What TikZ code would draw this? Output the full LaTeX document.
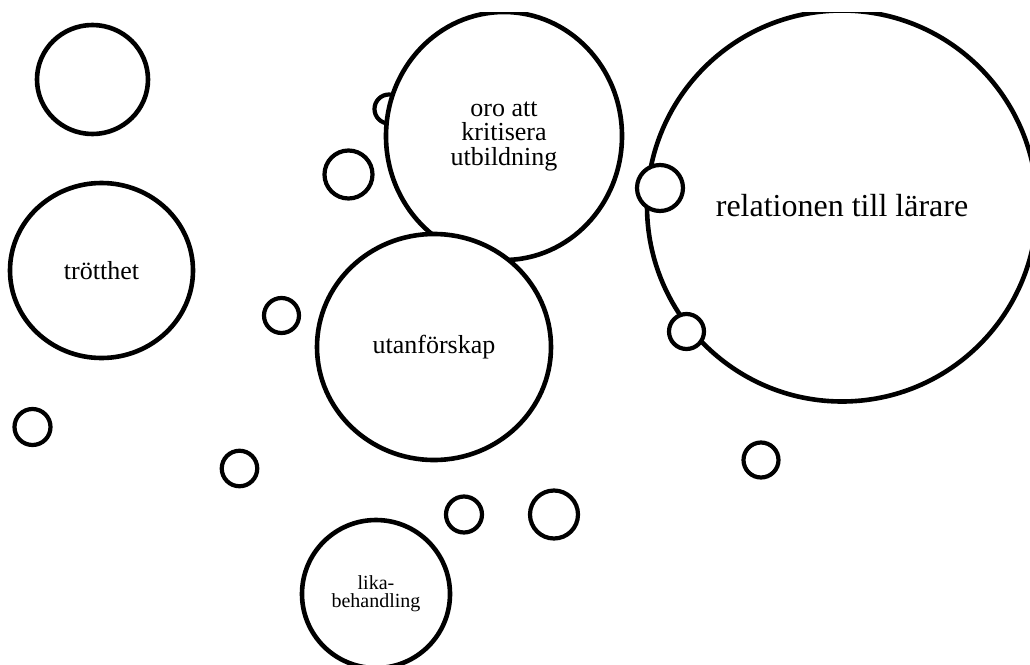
\documentclass[tikz,border=0pt]{standalone}
\usepackage{fontspec}
\setmainfont{Liberation Serif}
\usetikzlibrary{shapes.geometric}

\begin{document}
\begin{tikzpicture}[x=1pt,y=-1pt,
        bubble/.style={ellipse,draw,line width=4.6pt,fill=white,inner sep=0pt,align=center,
            font=\fontsize{26}{24.5}\selectfont},
        dot/.style={circle,draw,line width=4.2pt,fill=white,inner sep=0pt}]
    \useasboundingbox (0,0) rectangle (1030,664);
    \clip (0,12) rectangle (1030,664);

    % left column
    \node (empty) at (92.5,79.5) [bubble,minimum width=111pt,minimum height=109pt] {};
    \node (trott) at (101.5,270.5) [bubble,minimum width=183pt,minimum height=175pt] {trötthet};
    \node (d1) at (32.5,427) [dot,minimum size=36pt] {};
    \node (d2) at (281.5,315.5) [dot,minimum size=35pt] {};
    \node (d3) at (239.5,468.5) [dot,minimum size=35.5pt] {};
    \node (d4) at (389,109) [dot,minimum size=29pt] {};
    \node (d5) at (348.5,174.5) [dot,minimum size=48pt] {};

    % middle
    \node (oro) at (504,136) [bubble,minimum width=236pt,minimum height=248pt] {oro att\\kritisera\\utbildning};
    \node (utan) at (434,347) [bubble,minimum width=234pt,minimum height=226pt] {utanförskap};

    % right
    \node (rel) at (842,206) [bubble,minimum width=390pt,minimum height=391pt,
        font=\fontsize{32}{32}\selectfont] {relationen till lärare};
    \node (d6) at (660,188) [dot,minimum size=46pt] {};
    \node (d7) at (686.5,331.5) [dot,minimum size=35pt] {};
    \node (d8) at (761,460) [dot,minimum size=35pt] {};

    % bottom
    \node (d9) at (464,514.5) [dot,minimum size=36pt] {};
    \node (d10) at (554,514.5) [dot,minimum size=48pt] {};
    \node (lika) at (376,594) [bubble,minimum size=148pt,
        font=\fontsize{20}{18}\selectfont] {lika-\\behandling};
\end{tikzpicture}
\end{document}
